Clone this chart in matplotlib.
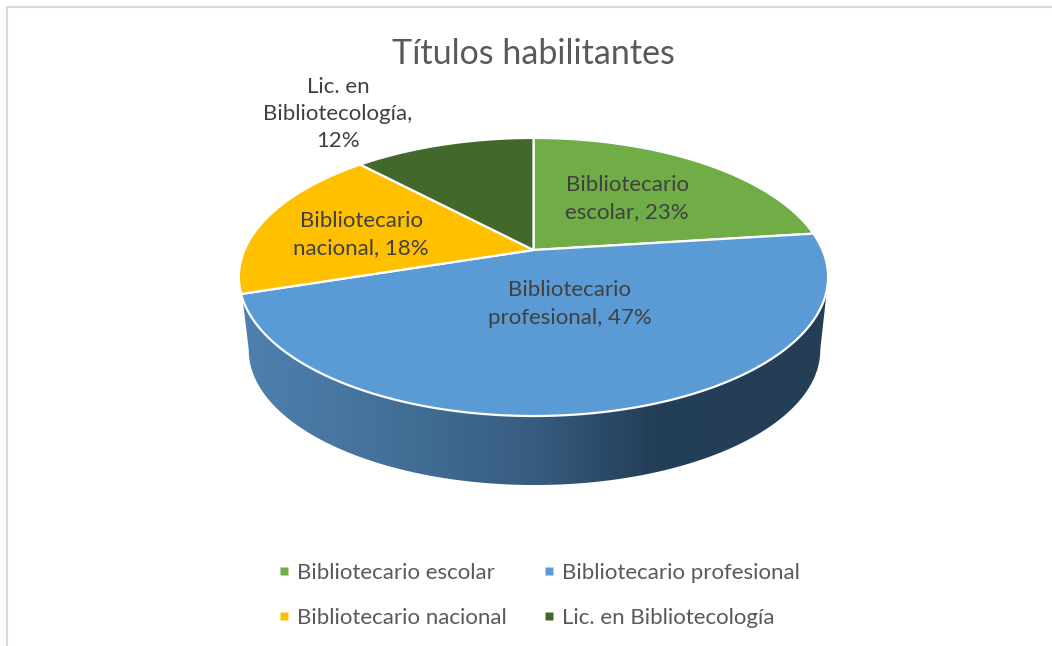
import numpy as np
import matplotlib
matplotlib.use('Agg')
import matplotlib.pyplot as plt
from matplotlib.colors import LinearSegmentedColormap
from matplotlib.patches import Polygon

plt.rcParams['font.family'] = ['Lato', 'DejaVu Sans']

title = 'Títulos habilitantes'
categories = ['Bibliotecario escolar', 'Bibliotecario profesional',
              'Bibliotecario nacional', 'Lic. en Bibliotecología']
values = [23, 47, 18, 12]
colors = ['#70ad47', '#5b9bd5', '#ffc000', '#43682b']
# wrapped text of the labels on the slices
labels = ['Bibliotecario\nescolar, 23%', 'Bibliotecario\nprofesional, 47%',
          'Bibliotecario\nnacional, 18%', 'Lic. en\nBibliotecología,\n12%']
label_xy = [(627, 199), (570, 304), (361, 235), (338, 114)]

# gradient of the pie side, left to right
side_stops = [(0.0, '#4e81b0'), (0.30, '#416d94'), (0.50, '#375c80'),
              (0.70, '#243f58'), (1.0, '#233e55')]


def rim(theta, cy, scale=1.0, cx=533.5):
    # theta in degrees clockwise from the top, perspective view of the circle
    t = np.radians(theta)
    u, v = np.sin(t), np.cos(t)
    w = 1 + 0.194 * v
    return cx + scale * 289 * u / w, cy - scale * 133.8 * v / w


fig = plt.figure(figsize=(10.52, 6.46), dpi=100)
ax = fig.add_axes([0, 0, 1, 1])
ax.set_xlim(0, 1052)
ax.set_ylim(646, 0)
ax.axis('off')

# chart frame, only left and top show in the picture
ax.plot([7, 7, 1052], [646, 6.5, 6.5], color='#d9d9d9', lw=1.5)

# side of the pie
top_t = np.linspace(106, 250, 120)
low_t = np.linspace(259, 101, 120)
x1, y1 = rim(top_t, 250)
x2, y2 = rim(low_t, 324, 0.97, cx=534.5)
side = Polygon(np.column_stack([np.r_[x1, x2], np.r_[y1, y2]]), closed=True,
               fc='none', ec='none')
ax.add_patch(side)
cmap = LinearSegmentedColormap.from_list('side', side_stops)
grad = ax.imshow(np.linspace(0, 1, 512).reshape(1, -1), cmap=cmap, aspect='auto',
                 extent=[240, 828, 490, 270], zorder=1)
grad.set_clip_path(side)
ax.set_xlim(0, 1052)
ax.set_ylim(646, 0)

# slices
edges = np.cumsum([0] + values) / sum(values) * 360
for i in range(len(values)):
    t = np.linspace(edges[i], edges[i + 1], 200)
    x, y = rim(t, 250)
    ax.fill(np.r_[533.5, x], np.r_[250, y], fc=colors[i], ec='white', lw=1.6,
            joinstyle='round', zorder=2)

for txt, (lx, ly) in zip(labels, label_xy):
    ax.text(lx, ly, txt, ha='center', va='center', fontsize=16, color='#404040',
            linespacing=1.44, zorder=3)

ax.text(533.5, 54, title, ha='center', va='center', fontsize=24.5, color='#595959')

# legend
legend_x = [284, 549, 284, 549]
legend_y = [571, 571, 616, 616]
for name, col, lx, ly in zip(categories, colors, legend_x, legend_y):
    ax.plot([lx], [ly], marker='s', ms=5.8, color=col, mec='none', ls='none')
    ax.text(lx + 13, ly + 2, name, ha='left', va='center', fontsize=16, color='#595959')

fig.savefig('out.png', dpi=100)
